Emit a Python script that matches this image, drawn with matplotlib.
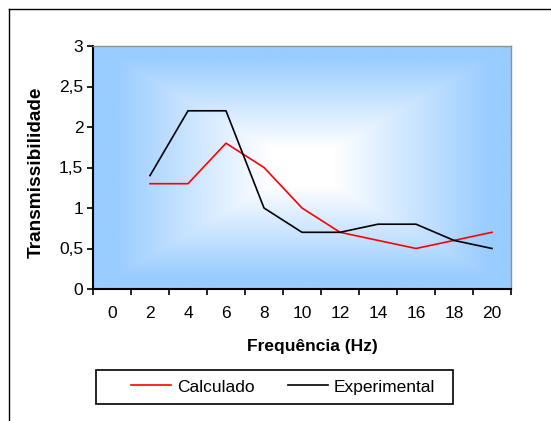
import matplotlib
matplotlib.use("Agg")
import matplotlib.pyplot as plt
import numpy as np
from matplotlib.lines import Line2D
from matplotlib.patches import Rectangle

plt.rcParams['font.family'] = ['Liberation Sans', 'DejaVu Sans']

freq = ["0", "2", "4", "6", "8", "10", "12", "14", "16", "18", "20"]
calculado = [None, 1.3, 1.3, 1.8, 1.5, 1.0, 0.7, 0.6, 0.5, 0.6, 0.7]
experimental = [None, 1.4, 2.2, 2.2, 1.0, 0.7, 0.7, 0.8, 0.8, 0.6, 0.5]
yticks = [0, 0.5, 1, 1.5, 2, 2.5, 3]
ytick_labels = ["0", "0,5", "1", "1,5", "2", "2,5", "3"]

fig = plt.figure(figsize=(5.51, 4.21), dpi=100)
ax = fig.add_axes([93/551, 1-289/421, 418/551, 243/421])

# fundo com gradiente a partir do centro (estilo Excel)
ny, nx = 200, 300
yy, xx = np.mgrid[-1:1:ny*1j, -1:1:nx*1j]
d = np.maximum(np.abs(xx), np.abs(yy))
t = np.clip((d - 0.15) / 0.75, 0, 1)
edge = np.array([153, 204, 255]) / 255.0
img = (1 - t)[..., None] * np.ones(3) + t[..., None] * edge
ax.imshow(img, extent=[0, 1, 0, 1], transform=ax.transAxes, aspect='auto',
          zorder=0, interpolation='bilinear')

x = np.arange(len(freq))
cx = [i for i, v in zip(x, calculado) if v is not None]
cy = [v for v in calculado if v is not None]
ex = [i for i, v in zip(x, experimental) if v is not None]
ey = [v for v in experimental if v is not None]
ax.plot(cx, cy, color='#ff0000', lw=1.2, label='Calculado', zorder=3)
ax.plot(ex, ey, color='black', lw=1.2, label='Experimental', zorder=3)

ax.set_xlim(-0.5, len(freq) - 0.5)
ax.set_ylim(0, 3)
ax.set_yticks(yticks)
ax.set_yticklabels(ytick_labels)
ax.set_xticks(np.arange(len(freq) + 1) - 0.5)
ax.set_xticklabels([])
ax.set_xticks(x, minor=True)
ax.set_xticklabels(freq, minor=True)
ax.tick_params(axis='x', which='major', length=4, width=1.2, direction='out')
ax.tick_params(axis='x', which='minor', length=0, pad=12, labelsize=12.5)
ax.tick_params(axis='y', length=4, width=1.2, direction='out', pad=3, labelsize=12.5)

for s in ['left', 'bottom']:
    ax.spines[s].set_color('black')
    ax.spines[s].set_linewidth(1.5)
for s in ['top', 'right']:
    ax.spines[s].set_color('#909090')
    ax.spines[s].set_linewidth(1.0)

fig.text(312/551, 1-347/421, "Frequência (Hz)", ha='center', va='center',
         fontsize=12.5, fontweight='bold')
fig.text(36/551, 1-172/421, "Transmissibilidade", ha='center', va='center',
         rotation=90, fontsize=13.7, fontweight='bold')

# borda externa do gráfico
fig.add_artist(Line2D([8.5/551, 1.01], [1-8.5/421, 1-8.5/421], color='black', lw=1.0))
fig.add_artist(Line2D([8.5/551, 8.5/551], [1-8.5/421, -0.01], color='black', lw=1.0))

# legenda
fig.add_artist(Rectangle((96/551, 1-404/421), 357/551, 34/421, fill=False,
                         edgecolor='black', lw=1.2, transform=fig.transFigure))
handles, labels = ax.get_legend_handles_labels()
fig.legend(handles, labels, loc='center', bbox_to_anchor=(283/551, 1-387/421),
           ncol=2, frameon=False, fontsize=12.5, handlelength=2.3,
           handletextpad=0.35, columnspacing=1.9)

fig.savefig("out.png", dpi=100)
